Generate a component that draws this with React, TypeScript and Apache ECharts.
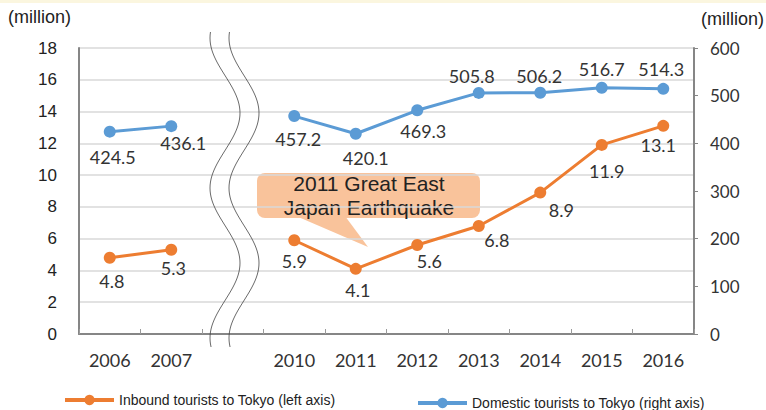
import React, { useEffect, useRef } from "react";
import * as echarts from "echarts";

const categories = ["2006", "2007", "", "2010", "2011", "2012", "2013", "2014", "2015", "2016"];
const inbound = [4.8, 5.3, null, 5.9, 4.1, 5.6, 6.8, 8.9, 11.9, 13.1];
const domestic = [424.5, 436.1, null, 457.2, 420.1, 469.3, 505.8, 506.2, 516.7, 514.3];
const leftTicks = { min: 0, max: 18, interval: 2 };
const rightTicks = { min: 0, max: 600, interval: 100 };

const inboundName = "Inbound tourists to Tokyo (left axis)";
const domesticName = "Domestic tourists to Tokyo (right axis)";
const calloutLines = ["2011 Great East", "Japan Earthquake"];

// label nudges (style only)
const inboundNudge: number[][] = [[2, 23], [2, 18], [0, 0], [0, 21], [2, 21], [12, 16], [18, 14], [21, 17], [5, 26], [-5, 19]];
const domesticNudge: number[][] = [[3, 25], [12, 17], [0, 0], [4, 23], [10, 24], [6, 21], [-7, -17], [-1, -17], [0, -19], [-2, -20]];

const ORANGE = "#ED7D31";
const BLUE = "#5B9BD5";
const CAL = "Lato, 'Open Sans', sans-serif";
const ARIAL = "'Liberation Sans', Arial, sans-serif";

function wave(cx: number): number[][] {
  const pts: number[][] = [];
  for (let y = 32; y <= 349; y += 3) {
    pts.push([cx + 15 * Math.cos((2 * Math.PI * (y - 113)) / 150), y]);
  }
  return pts;
}

export default function App() {
  const ref = useRef<HTMLDivElement>(null);
  useEffect(() => {
    if (!ref.current) return;
    const chart = echarts.init(ref.current, null, { renderer: "svg" });
    const mk = (vals: (number | null)[], nudges: number[][]) =>
      vals.map((v, i) =>
        v == null ? null : { value: v, label: { offset: nudges[i] } }
      );
    chart.setOption({
      animation: false,
      backgroundColor: "#ffffff",
      grid: { left: 79, right: 72, top: 48, bottom: 76, containLabel: false },
      xAxis: {
        type: "category",
        data: categories,
        boundaryGap: true,
        axisLine: { show: true, lineStyle: { color: "#868686", width: 2 } },
        axisTick: { show: true, inside: true, length: 5, lineStyle: { color: "#9a9a9a", width: 1 } },
        axisLabel: { color: "#333", fontFamily: CAL, fontSize: 18, margin: 17 },
        splitLine: { show: false },
      },
      yAxis: [
        {
          type: "value",
          ...leftTicks,
          position: "left",
          axisLine: { show: true, lineStyle: { color: "#868686", width: 2 } },
          axisTick: { show: false },
          axisLabel: { color: "#222", fontFamily: ARIAL, fontSize: 17, margin: 22 },
          splitLine: { show: true, lineStyle: { color: "#D9D9D9", width: 1.5 } },
        },
        {
          type: "value",
          ...rightTicks,
          position: "right",
          axisLine: { show: true, lineStyle: { color: "#868686", width: 2 } },
          axisTick: { show: true, inside: false, length: 4, lineStyle: { color: "#868686", width: 1 } },
          axisLabel: { color: "#333", fontFamily: CAL, fontSize: 17, margin: 16 },
          splitLine: { show: false },
        },
      ],
      legend: [
        {
          data: [inboundName],
          left: 63,
          top: 393,
          padding: 0,
          itemWidth: 49,
          itemHeight: 13,
          textStyle: { fontFamily: ARIAL, fontSize: 14, color: "#222" },
          lineStyle: { width: 4 },
        },
        {
          data: [domesticName],
          left: 416,
          top: 396,
          padding: 0,
          itemWidth: 49,
          itemHeight: 13,
          textStyle: { fontFamily: ARIAL, fontSize: 14, color: "#222" },
          lineStyle: { width: 4 },
        },
      ],
      series: [
        {
          name: inboundName,
          type: "line",
          yAxisIndex: 0,
          data: mk(inbound, inboundNudge),
          connectNulls: false,
          symbol: "circle",
          symbolSize: 12,
          lineStyle: { color: ORANGE, width: 3 },
          itemStyle: { color: ORANGE },
          label: { show: true, position: "inside", color: "#333", fontFamily: CAL, fontSize: 18 },
          z: 3,
        },
        {
          name: domesticName,
          type: "line",
          yAxisIndex: 1,
          data: mk(domestic, domesticNudge),
          connectNulls: false,
          symbol: "circle",
          symbolSize: 12,
          lineStyle: { color: BLUE, width: 3 },
          itemStyle: { color: BLUE },
          label: { show: true, position: "inside", color: "#333", fontFamily: CAL, fontSize: 18 },
          z: 3,
        },
      ],
      graphic: [
        { type: "rect", left: 0, top: 0, shape: { width: 766, height: 3 }, style: { fill: "#FBF6DF" }, silent: true },
        { type: "text", left: 8, top: 8, style: { text: "(million)", fontFamily: ARIAL, fontSize: 18, fill: "#222" } },
        { type: "text", right: 2, top: 10, style: { text: "(million)", fontFamily: ARIAL, fontSize: 18, fill: "#222" } },
        { type: "polyline", shape: { points: wave(225) }, style: { stroke: "#444", lineWidth: 0.8, fill: null }, z: 10 },
        { type: "polyline", shape: { points: wave(244) }, style: { stroke: "#444", lineWidth: 0.8, fill: null }, z: 10 },
        {
          type: "group",
          z: 20,
          children: [
            { type: "rect", shape: { x: 257, y: 173, width: 223, height: 45, r: 8 }, style: { fill: "#F9C39B" } },
            { type: "polygon", shape: { points: [[296, 216], [345, 216], [368, 247]] }, style: { fill: "#F9C39B" } },
            {
              type: "text",
              x: 369,
              y: 195,
              style: {
                text: calloutLines.join("\n"),
                fontFamily: ARIAL,
                fontSize: 21,
                lineHeight: 24,
                fill: "#222",
                align: "center",
                verticalAlign: "middle",
              },
            },
          ],
        },
      ],
    });
    return () => chart.dispose();
  }, []);
  return (
    <div
      ref={ref}
      style={{ position: "fixed", left: 0, top: 0, width: 766, height: 410, background: "#fff" }}
    />
  );
}
